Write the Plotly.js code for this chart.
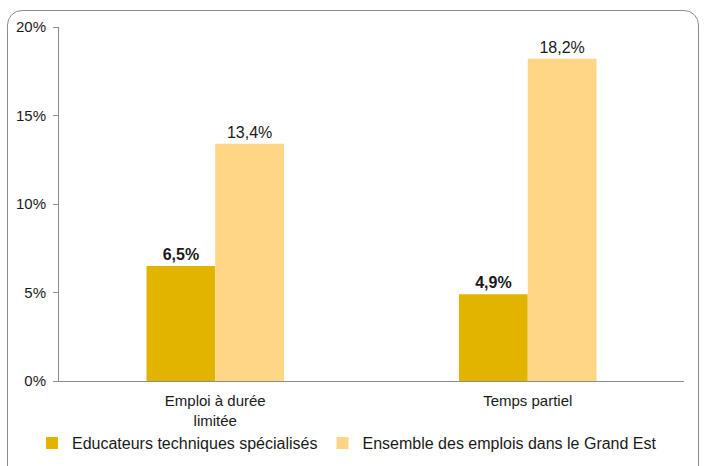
<!DOCTYPE html>
<html>
<head>
<meta charset="utf-8">
<script src="https://cdn.plot.ly/plotly-3.0.1.min.js"></script>
<style>
  html, body { margin: 0; padding: 0; background: #fff; }
  #wrap { position: relative; width: 704px; height: 466px; overflow: hidden; }
  #chart { position: absolute; left: 0; top: 0; width: 704px; height: 466px; }
  #frame { position: absolute; left: 7px; top: 10px; width: 690px; height: 470px;
           border: 1.5px solid #8c8c8c; border-radius: 15px; pointer-events: none; }
</style>
</head>
<body>
<div id="wrap">
  <div id="chart"></div>
  <div id="frame"></div>
</div>
<script>
const categories = ["Emploi à durée<br>limitée", "Temps partiel"];
const seriesNames = ["Educateurs techniques spécialisés", "Ensemble des emplois dans le Grand Est"];
const educateurs = [6.5, 4.9];
const ensemble = [13.4, 18.2];
const yTicks = [0, 5, 10, 15, 20];
const yTickLabels = ["0%", "5%", "10%", "15%", "20%"];

const fmt = v => v.toFixed(1).replace('.', ',') + '%';
const font = "Liberation Sans, Arial, sans-serif";

const traces = [
  {
    type: 'bar', name: seriesNames[0], x: categories, y: educateurs,
    marker: { color: '#E2B400' },
    text: educateurs.map(fmt), texttemplate: '<b>%{text}</b>',
    textposition: 'outside', cliponaxis: false,
    textfont: { family: font, size: 16, color: '#1a1a1a' },
    hoverinfo: 'none'
  },
  {
    type: 'bar', name: seriesNames[1], x: categories, y: ensemble,
    marker: { color: '#FFD685' },
    text: ensemble.map(fmt), texttemplate: '%{text}',
    textposition: 'outside', cliponaxis: false,
    textfont: { family: font, size: 16, color: '#1a1a1a' },
    hoverinfo: 'none'
  }
];

const layout = {
  width: 704, height: 466,
  margin: { l: 59, r: 20, t: 27, b: 85, autoexpand: false },
  paper_bgcolor: '#ffffff', plot_bgcolor: '#ffffff',
  font: { family: font, size: 15, color: '#1a1a1a' },
  barmode: 'group', bargap: 0.56, bargroupgap: 0,
  showlegend: true,
  legend: {
    orientation: 'h', xref: 'container', x: 32 / 704, xanchor: 'left',
    yref: 'container', y: 0.049, yanchor: 'middle',
    font: { family: font, size: 16, color: '#1a1a1a' },
    itemwidth: 30, traceorder: 'normal'
  },
  xaxis: {
    showline: true, linecolor: '#8c8c8c', linewidth: 1,
    ticks: '', showgrid: false, zeroline: false,
    tickfont: { family: font, size: 15, color: '#1a1a1a' },
    ticklabelstandoff: 6,
    fixedrange: true
  },
  yaxis: {
    range: [0, 20], tickvals: yTicks, ticktext: yTickLabels,
    showline: true, linecolor: '#8c8c8c', linewidth: 1,
    ticks: 'outside', ticklen: 5, tickcolor: '#8c8c8c',
    showgrid: false, zeroline: false,
    tickfont: { family: font, size: 15, color: '#1a1a1a' },
    ticklabelstandoff: 4,
    fixedrange: true
  }
};

Plotly.newPlot('chart', traces, layout, { displayModeBar: false, staticPlot: true });
</script>
</body>
</html>
